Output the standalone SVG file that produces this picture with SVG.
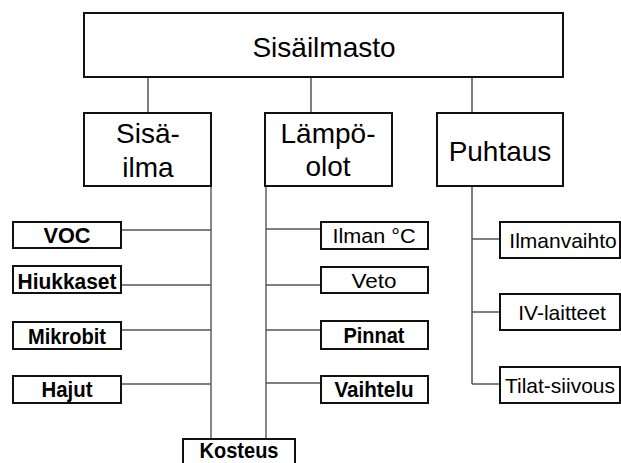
<svg xmlns="http://www.w3.org/2000/svg" width="621" height="463" viewBox="0 0 621 463">
<style>
.box{fill:#fff;stroke:#111;stroke-width:2}
.t{font-family:"Liberation Sans",Arial,sans-serif;fill:#000;text-anchor:middle}
.big{font-size:28px}
.sub{font-size:21px}
.b{font-weight:bold;font-size:22.5px}
.c{stroke:#555;stroke-width:1.5;fill:none}
.v{stroke:#111;stroke-width:1;fill:none}
</style>
<rect width="621" height="463" fill="#fff"/>
<g id="connectors">
<path class="c" d="M148 77V113M311 77V113M472 77V113"/>
<path class="v" d="M211 186V439M266 186V439"/>
<path class="c" d="M121 230H211M121 285H211M121 330H211M121 384H211"/>
<path class="c" d="M266 229H321M266 285H321M266 330H321M266 383H321"/>
<path class="c" d="M472 186V384M472 239H500M472 312H500M472 384H500"/>
</g>
<g id="sisailmasto"><rect class="box" x="84" y="13" width="479" height="64"/><text class="t big" x="324" y="57" font-size="29">Sisäilmasto</text></g>
<g id="sisailma"><rect class="box" x="84" y="113" width="127" height="73"/><text class="t big" x="148" y="143">Sisä-</text><text class="t big" x="148" y="177">ilma</text></g>
<g id="lampoolot"><rect class="box" x="265" y="113" width="127" height="73"/><text class="t big" x="328" y="143">Lämpö-</text><text class="t big" x="328" y="176">olot</text></g>
<g id="puhtaus"><rect class="box" x="437" y="113" width="126" height="73"/><text class="t big" x="500" y="161">Puhtaus</text></g>
<g id="voc"><rect class="box" x="13" y="222" width="108" height="26"/><text class="t b" x="67" y="243" textLength="47" lengthAdjust="spacingAndGlyphs">VOC</text></g>
<g id="hiukkaset"><rect class="box" x="13" y="266" width="108" height="27"/><text class="t b" x="67" y="289" font-size="24" textLength="99" lengthAdjust="spacingAndGlyphs">Hiukkaset</text></g>
<g id="mikrobit"><rect class="box" x="13" y="322" width="108" height="27"/><text class="t b" x="67" y="344" textLength="78" lengthAdjust="spacingAndGlyphs">Mikrobit</text></g>
<g id="hajut"><rect class="box" x="13" y="376" width="108" height="27"/><text class="t b" x="67" y="397" textLength="51" lengthAdjust="spacingAndGlyphs">Hajut</text></g>
<g id="ilman"><rect class="box" x="321" y="222" width="107" height="27"/><text class="t sub" x="374" y="243" font-size="22" textLength="83" lengthAdjust="spacingAndGlyphs">Ilman °C</text></g>
<g id="veto"><rect class="box" x="321" y="267" width="107" height="26"/><text class="t sub" x="374" y="288" font-size="22" textLength="45" lengthAdjust="spacingAndGlyphs">Veto</text></g>
<g id="pinnat"><rect class="box" x="321" y="321" width="107" height="28"/><text class="t b" x="374" y="343" textLength="61" lengthAdjust="spacingAndGlyphs">Pinnat</text></g>
<g id="vaihtelu"><rect class="box" x="321" y="376" width="107" height="27"/><text class="t b" x="374" y="397" textLength="79" lengthAdjust="spacingAndGlyphs">Vaihtelu</text></g>
<g id="ilmanvaihto"><rect class="box" x="500" y="222" width="120" height="36"/><text class="t sub" x="563" y="248">Ilmanvaihto</text></g>
<g id="ivlaitteet"><rect class="box" x="500" y="294" width="120" height="36"/><text class="t sub" x="562" y="320">IV-laitteet</text></g>
<g id="tilatsiivous"><rect class="box" x="500" y="367" width="120" height="36"/><text class="t sub" x="560" y="393">Tilat-siivous</text></g>
<g id="kosteus"><rect class="box" x="183" y="439" width="112" height="36"/><text class="t b" x="239" y="458" font-size="21" textLength="79" lengthAdjust="spacingAndGlyphs">Kosteus</text></g>
</svg>
